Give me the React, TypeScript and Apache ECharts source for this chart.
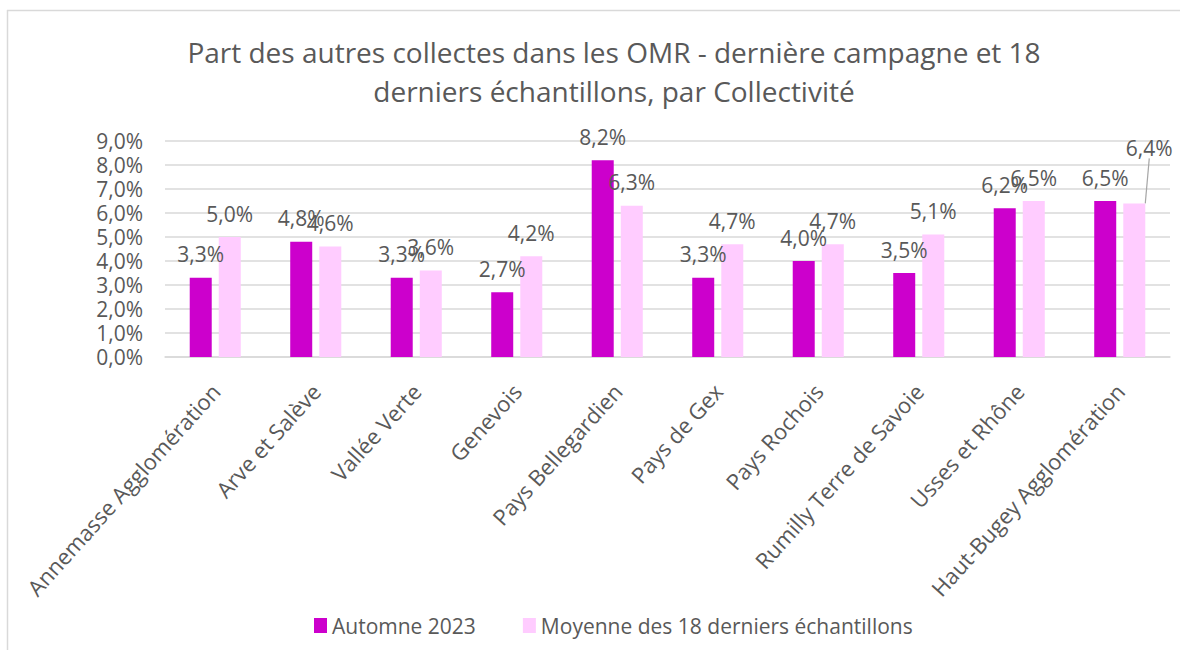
import React, { useEffect, useRef } from "react";
import * as echarts from "echarts";

const categories = [
  "Annemasse Agglomération",
  "Arve et Salève",
  "Vallée Verte",
  "Genevois",
  "Pays Bellegardien",
  "Pays de Gex",
  "Pays Rochois",
  "Rumilly Terre de Savoie",
  "Usses et Rhône",
  "Haut-Bugey Agglomération",
];
const automne2023 = [3.3, 4.8, 3.3, 2.7, 8.2, 3.3, 4.0, 3.5, 6.2, 6.5];
const moyenne18 = [5.0, 4.6, 3.6, 4.2, 6.3, 4.7, 4.7, 5.1, 6.5, 6.4];
const seriesNames = ["Automne 2023", "Moyenne des 18 derniers échantillons"];
const titleText =
  "Part des autres collectes dans les OMR - dernière campagne et 18\nderniers échantillons, par Collectivité";

const FONT = "'Open Sans', sans-serif";
const TXT = "#595959";
const fmt = (v: number) => v.toFixed(1).replace(".", ",") + "%";

export default function App() {
  const ref = useRef<HTMLDivElement>(null);
  useEffect(() => {
    if (!ref.current) return;
    const chart = echarts.init(ref.current, undefined, { renderer: "svg" });
    const labelCommon = {
      show: true,
      position: "top" as const,
      distance: 13,
      fontSize: 21,
      fontFamily: FONT,
      color: TXT,
      formatter: (p: any) => fmt(p.value),
    };
    chart.setOption({
      animation: false,
      backgroundColor: "#ffffff",
      textStyle: { fontFamily: FONT },
      graphic: [
        {
          type: "line",
          shape: { x1: 7, y1: 10.5, x2: 1180, y2: 10.5 },
          style: { stroke: "#D9D9D9", lineWidth: 1.5 },
          silent: true,
        },
        {
          type: "line",
          shape: { x1: 7.5, y1: 10, x2: 7.5, y2: 650 },
          style: { stroke: "#D9D9D9", lineWidth: 1.5 },
          silent: true,
        },
      ],
      title: {
        text: titleText,
        left: 609,
        top: 27,
        textAlign: "center",
        textStyle: {
          fontSize: 28,
          fontWeight: "normal",
          fontFamily: FONT,
          color: TXT,
          lineHeight: 39,
        },
      },
      legend: {
        data: seriesNames,
        left: 309,
        top: 610,
        itemWidth: 13,
        itemHeight: 15,
        itemGap: 47,
        icon: "rect",
        textStyle: { fontSize: 21, fontFamily: FONT, color: TXT },
      },
      grid: { left: 165, right: 20, top: 141, bottom: 293, containLabel: false },
      xAxis: {
        type: "category",
        data: categories,
        axisLine: { show: true, lineStyle: { color: "#D9D9D9", width: 1.5 } },
        axisTick: { show: false },
        axisLabel: {
          rotate: 48,
          interval: 0,
          margin: 30,
          fontSize: 22,
          fontFamily: FONT,
          color: TXT,
        },
      },
      yAxis: {
        type: "value",
        min: 0,
        max: 9,
        interval: 1,
        axisLine: { show: false },
        axisTick: { show: false },
        splitLine: { lineStyle: { color: "#D9D9D9", width: 1.5 } },
        axisLabel: {
          margin: 22,
          fontSize: 21,
          fontFamily: FONT,
          color: TXT,
          formatter: (v: number) => fmt(v),
        },
      },
      series: [
        {
          name: seriesNames[0],
          type: "bar",
          data: automne2023,
          barWidth: 22,
          barGap: "32%",
          itemStyle: { color: "#CC00CC" },
          label: labelCommon,
        },
        {
          name: seriesNames[1],
          type: "bar",
          data: moyenne18.map((v, i) =>
            i === 9
              ? { value: v, labelLine: { show: true, lineStyle: { color: "#A6A6A6", width: 1.2 } } }
              : v
          ),
          barWidth: 22,
          itemStyle: { color: "#FFCCFF" },
          label: labelCommon,
          labelLayout: (p: any) => (p.dataIndex === 9 ? { dx: 15, dy: -32 } : {}),
        },
      ],
    });
    return () => chart.dispose();
  }, []);
  return (
    <div
      ref={ref}
      style={{ position: "absolute", left: 0, top: 0, width: 1190, height: 650 }}
    />
  );
}
